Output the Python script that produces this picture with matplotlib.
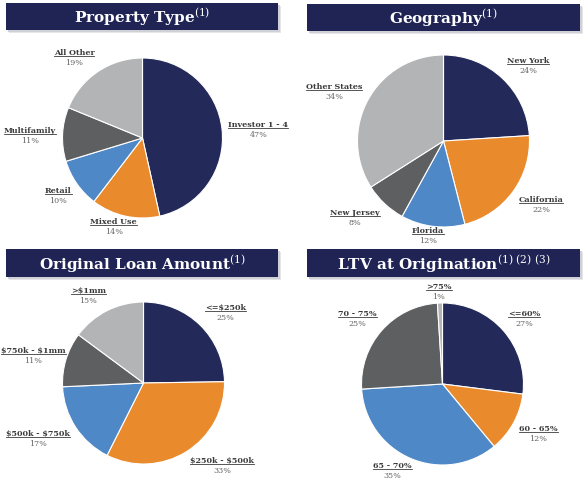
import matplotlib
matplotlib.use("Agg")
import matplotlib.pyplot as plt
from matplotlib.patches import Rectangle
from matplotlib.lines import Line2D
import numpy as np

W, H = 588, 482

# data
type_labels = ["Investor 1 - 4", "Mixed Use", "Retail", "Multifamily", "All Other"]
type_values = [47, 14, 10, 11, 19]

geo_labels = ["New York", "California", "Florida", "New Jersey", "Other States"]
geo_values = [24, 22, 12, 8, 34]

loan_labels = ["<=$250k", "$250k - $500k", "$500k - $750k", "$750k - $1mm", ">$1mm"]
loan_values = [25, 33, 17, 11, 15]

ltv_labels = ["<=60%", "60 - 65%", "65 - 70%", "70 - 75%", ">75%"]
ltv_values = [27, 12, 35, 25, 1]

colors = ["#232a59", "#e98a2c", "#4f88c6", "#5e5f61", "#b3b4b6"]
NAVY = "#1f2454"

plt.rcParams["mathtext.fontset"] = "dejavuserif"

fig = plt.figure(figsize=(W / 100, H / 100), dpi=100)
fig.patch.set_facecolor("white")


def header(x0, y0, x1, y1, title):
    """barra de titulo en pixeles (origen arriba a la izquierda)"""
    for off, col in [(3, "#e6e6ea"), (2, "#d0d1d6")]:
        fig.add_artist(Rectangle(((x0 + off) / W, 1 - (y1 + off) / H),
                                 (x1 - x0) / W, (y1 - y0) / H,
                                 transform=fig.transFigure, color=col, lw=0))
    fig.add_artist(Rectangle((x0 / W, 1 - y1 / H), (x1 - x0) / W, (y1 - y0) / H,
                             transform=fig.transFigure, color=NAVY, lw=0))
    fig.text((x0 + x1) / 2 / W, 1 - ((y0 + y1) / 2 + 1) / H, title,
             ha="center", va="center", color="white", fontsize=11,
             family="DejaVu Serif", weight="bold")


# (texto nombre, texto porcentaje, angulo medio)
label_items = []


def pie_panel(cx, cy, r, labels, values):
    ax = fig.add_axes([(cx - r) / W, 1 - (cy + r) / H, 2 * r / W, 2 * r / H])
    wedges, _ = ax.pie(values, colors=colors, startangle=90, counterclock=False,
                       radius=1, wedgeprops=dict(edgecolor="white", linewidth=0.8))
    ax.set_xlim(-1, 1)
    ax.set_ylim(-1, 1)
    ax.axis("off")
    for w, lab, v in zip(wedges, labels, values):
        mid = np.deg2rad((w.theta1 + w.theta2) / 2)
        x, y = 1.08 * np.cos(mid), 1.08 * np.sin(mid)
        t1 = ax.annotate(lab, (x, y), xytext=(0, 5), textcoords="offset pixels",
                         ha="center", va="center", fontsize=5.8, color="#3a3a3a",
                         family="DejaVu Serif", weight="bold", annotation_clip=False,
                         parse_math=False)
        t2 = ax.annotate(f"{v}%", (x, y), xytext=(0, -5), textcoords="offset pixels",
                         ha="center", va="center", fontsize=5.8, color="#666666",
                         family="DejaVu Serif", annotation_clip=False, parse_math=False)
        label_items.append((t1, t2, mid))
    return ax


header(6, 3, 278, 30, r"Property Type$^{(1)}$")
header(307, 4, 580, 31, r"Geography$^{(1)}$")
header(6, 249, 278, 277, r"Original Loan Amount$^{(1)}$")
header(307, 249, 580, 277, r"LTV at Origination$^{(1)\ (2)\ (3)}$")

pie_panel(142.5, 138, 80, type_labels, type_values)
pie_panel(443.5, 141, 86, geo_labels, geo_values)
pie_panel(143.5, 383, 81, loan_labels, loan_values)
pie_panel(442.5, 384, 81, ltv_labels, ltv_values)

# desplazar cada etiqueta fuera del circulo segun su ancho
fig.canvas.draw()
renderer = fig.canvas.get_renderer()
for t1, t2, mid in label_items:
    b1 = t1.get_window_extent(renderer)
    b2 = t2.get_window_extent(renderer)
    w = max(b1.width, b2.width)
    s, c = np.sin(mid), np.cos(mid)
    dx = w / 2 * np.clip(2 * c, -1, 1)
    dy = 14 * s * np.sqrt(abs(c)) - 2.5 * abs(c) + 2.5 * abs(s) ** 3
    # que no se salga de la figura
    xc = (b1.x0 + b1.x1) / 2 + dx
    dx += max(0, 1 + w / 2 - xc) - max(0, xc + w / 2 - (W - 1))
    t1.xyann = (dx, dy + 5)
    t2.xyann = (dx, dy - 5)

# subrayado de las etiquetas
fig.canvas.draw()
for t1, t2, mid in label_items:
    bb = t1.get_window_extent(renderer)
    yl = bb.y0 + 1.0
    fig.add_artist(Line2D([bb.x0 / W, bb.x1 / W], [yl / H, yl / H],
                          transform=fig.transFigure, color="#3a3a3a", lw=0.6))

fig.savefig("out.png", dpi=100)
